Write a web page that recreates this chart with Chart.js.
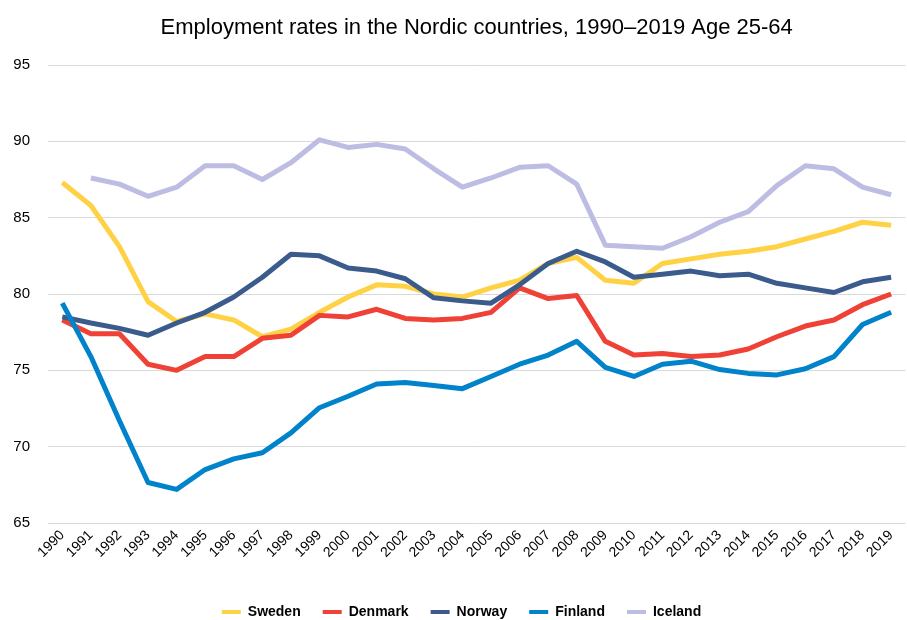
<!DOCTYPE html>
<html>
<head>
<meta charset="utf-8">
<script src="https://cdn.jsdelivr.net/npm/chart.js@4/dist/chart.umd.min.js"></script>
<style>
  html, body { margin: 0; padding: 0; background: #ffffff; }
  #wrap { width: 907px; height: 620px; position: relative; }
</style>
</head>
<body>
<div id="wrap"><canvas id="c" width="907" height="620"></canvas></div>
<script>
const TITLE = 'Employment rates in the Nordic countries, 1990\u20132019 Age 25-64';
const years = ['1990','1991','1992','1993','1994','1995','1996','1997','1998','1999',
               '2000','2001','2002','2003','2004','2005','2006','2007','2008','2009',
               '2010','2011','2012','2013','2014','2015','2016','2017','2018','2019'];
const yTicks = [65, 70, 75, 80, 85, 90, 95];
const seriesNames = ['Sweden', 'Denmark', 'Norway', 'Finland', 'Iceland'];
const sweden  = [87.3, 85.8, 83.1, 79.5, 78.2, 78.7, 78.3, 77.2, 77.7, 78.8, 79.8, 80.6, 80.5, 80.0, 79.8, 80.4, 80.9, 82.0, 82.4, 80.9, 80.7, 82.0, 82.3, 82.6, 82.8, 83.1, 83.6, 84.1, 84.7, 84.5];
const denmark = [78.3, 77.4, 77.4, 75.4, 75.0, 75.9, 75.9, 77.1, 77.3, 78.6, 78.5, 79.0, 78.4, 78.3, 78.4, 78.8, 80.4, 79.7, 79.9, 76.9, 76.0, 76.1, 75.9, 76.0, 76.4, 77.2, 77.9, 78.3, 79.3, 80.0];
const norway  = [78.5, 78.1, 77.75, 77.3, 78.1, 78.8, 79.8, 81.1, 82.6, 82.5, 81.7, 81.5, 81.0, 79.75, 79.55, 79.4, 80.6, 82.0, 82.8, 82.1, 81.1, 81.3, 81.5, 81.2, 81.3, 80.7, 80.4, 80.1, 80.8, 81.1];
const finland = [79.4, 75.9, 71.7, 67.65, 67.2, 68.5, 69.2, 69.6, 70.9, 72.55, 73.3, 74.1, 74.2, 74.0, 73.8, 74.6, 75.4, 76.0, 76.9, 75.2, 74.6, 75.4, 75.6, 75.05, 74.8, 74.7, 75.1, 75.9, 78.0, 78.8];
const iceland = [null, 87.6, 87.2, 86.4, 87.0, 88.4, 88.4, 87.5, 88.6, 90.1, 89.6, 89.8, 89.5, 88.2, 87.0, 87.6, 88.3, 88.4, 87.2, 83.2, 83.1, 83.0, 83.75, 84.7, 85.4, 87.1, 88.4, 88.2, 87.0, 86.5];

const seriesValues = [sweden, denmark, norway, finland, iceland];
const colors = ['#FFD145', '#EF4136', '#3B5B8C', '#0083CA', '#BDBDE3'];
const FONT = '"Liberation Sans", Arial, Helvetica, sans-serif';

const datasets = seriesNames.map((name, i) => ({
  label: name,
  data: seriesValues[i],
  borderColor: colors[i],
  backgroundColor: colors[i],
  borderWidth: 5,
  pointRadius: 0,
  pointHoverRadius: 0,
  tension: 0,
  fill: false,
  spanGaps: false,
  borderJoinStyle: 'round',
  order: seriesNames.length - i
}));

const blockShiftPlugin = {
  id: 'blockShift',
  afterLayout(chart) {
    const tb = chart.titleBlock;
    if (tb) {
      tb.left = chart.chartArea.left;
      tb.right = chart.chartArea.right;
    }
    const lg = chart.legend;
    if (lg) {
      lg.left = 16;
    }
  }
};

new Chart(document.getElementById('c'), {
  type: 'line',
  data: { labels: years, datasets: datasets },
  plugins: [blockShiftPlugin],
  options: {
    responsive: false,
    animation: false,
    devicePixelRatio: 1,
    layout: { padding: { left: 0, right: 0, top: 0, bottom: -9 } },
    plugins: {
      title: {
        display: true,
        text: TITLE,
        color: '#000000',
        font: { family: FONT, size: 22, weight: 'normal', lineHeight: 1.2 },
        padding: { top: 15, bottom: 23.6 }
      },
      legend: {
        display: true,
        position: 'bottom',
        align: 'center',
        labels: {
          boxWidth: 19,
          boxHeight: 4,
          padding: 22,
          color: '#000000',
          font: { family: FONT, size: 14, weight: 'bold' },
          generateLabels(chart) {
            return chart.data.datasets.map((ds, i) => ({
              text: ds.label,
              fillStyle: ds.borderColor,
              strokeStyle: ds.borderColor,
              lineWidth: 0,
              hidden: false,
              datasetIndex: i,
              fontColor: '#000000'
            }));
          }
        }
      },
      tooltip: { enabled: false }
    },
    scales: {
      x: {
        type: 'category',
        offset: true,
        grid: { display: false, drawTicks: false },
        border: { display: false },
        ticks: {
          color: '#000000',
          font: { family: FONT, size: 14 },
          minRotation: 45,
          maxRotation: 45,
          autoSkip: false,
          padding: 4
        },
        afterFit(scale) { scale.height = 60; }
      },
      y: {
        min: 65,
        max: 95,
        afterBuildTicks(scale) { scale.ticks = yTicks.map(v => ({ value: v })); },
        grid: { color: '#D9D9D9', lineWidth: 1, drawTicks: false },
        border: { display: false },
        ticks: {
          color: '#000000',
          font: { family: FONT, size: 15 },
          padding: 18
        },
        afterFit(scale) { scale.width = 48; }
      }
    }
  }
});
</script>
</body>
</html>
